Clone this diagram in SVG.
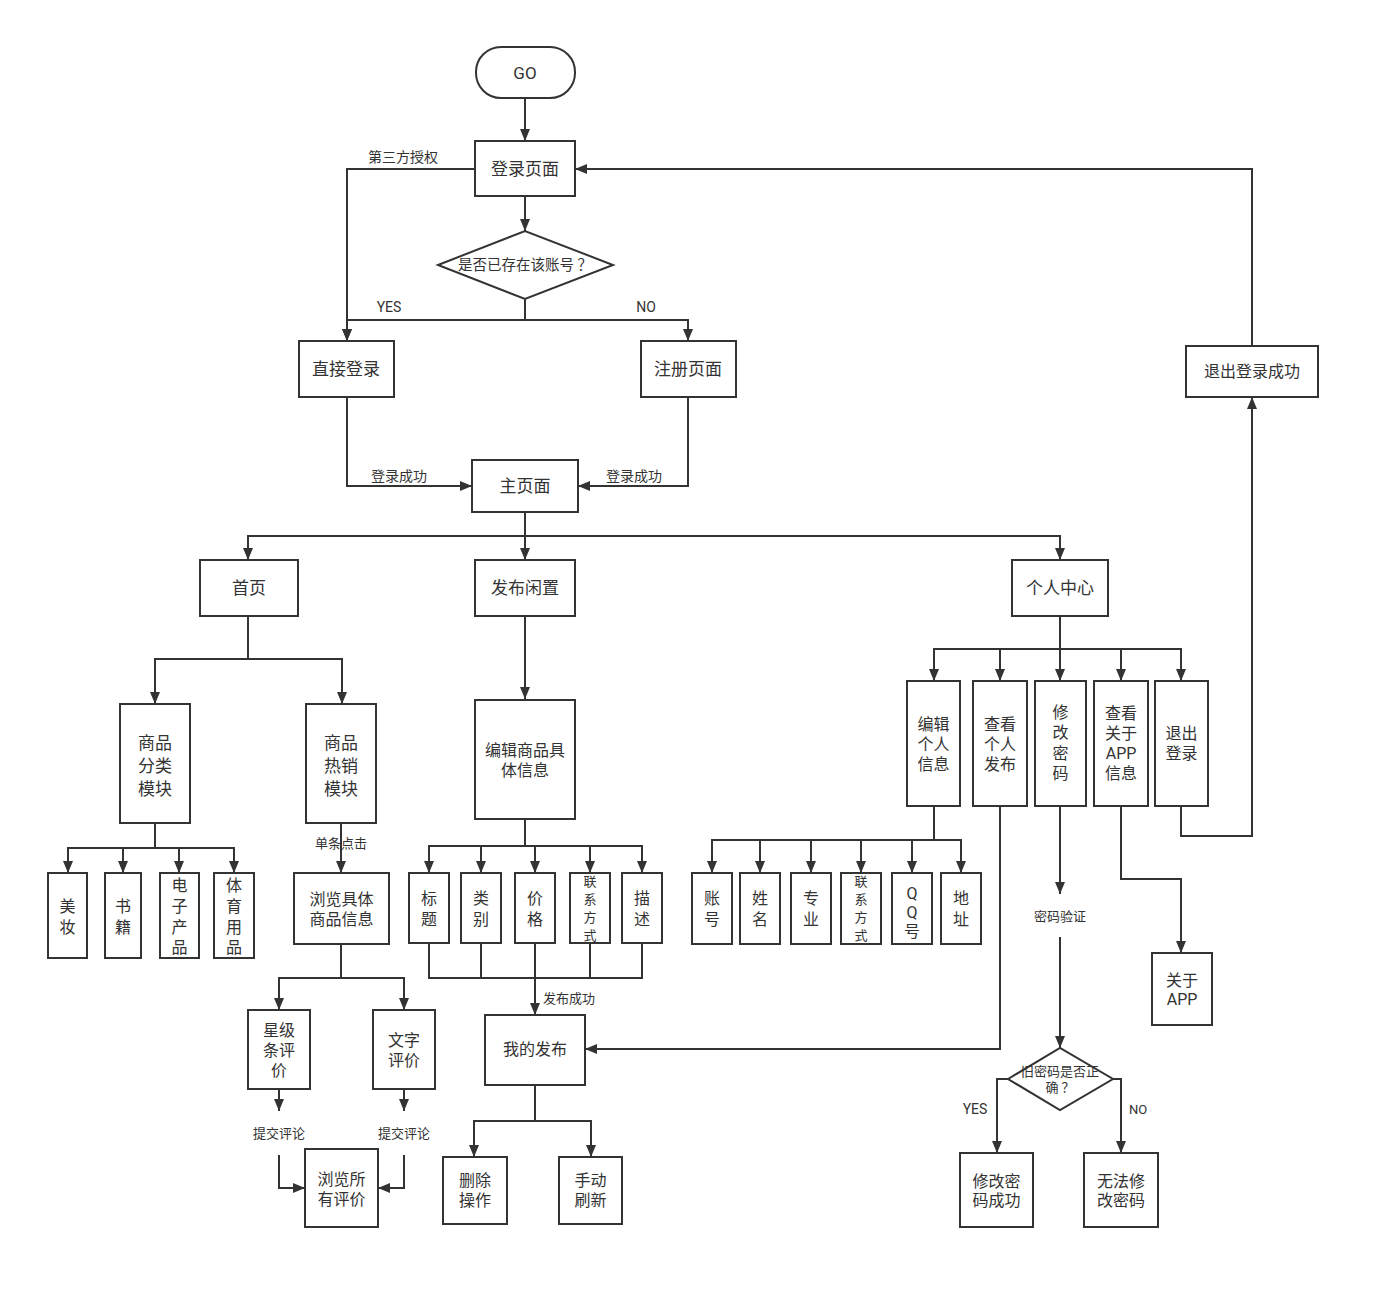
<svg xmlns="http://www.w3.org/2000/svg" width="1381" height="1290" viewBox="0 0 1381 1290">
<defs>
<style>
.b{fill:#fff;stroke:#333;stroke-width:2}
.c{fill:none;stroke:#333;stroke-width:2}
.a{marker-end:url(#ar)}
text{font-family:Roboto,"Noto Sans CJK SC",sans-serif;fill:#333;text-anchor:middle;dominant-baseline:central}
.t{font-size:17px}
.s{font-size:16px}
.l{font-size:14px}
.m{font-size:13px}
</style>
<marker id="ar" markerUnits="userSpaceOnUse" markerWidth="12" markerHeight="12" viewBox="0 0 12 12" refX="12" refY="6" orient="auto">
<path d="M0,1 L12,6 L0,11 z" fill="#333"/>
</marker>
</defs>
<rect width="1381" height="1290" fill="#fff"/>

<g id="connectors">
<path class="c a" d="M525,98 V141"/>
<path class="c a" d="M525,196 V231"/>
<path class="c a" d="M525,299 V320 H347 V341"/>
<path class="c a" d="M525,320 H688 V341"/>
<path class="c a" d="M475,169 H347 V341"/>
<path class="c a" d="M347,397 V486 H472"/>
<path class="c a" d="M688,397 V486 H578"/>
<path class="c a" d="M525,512 V536 H248 V560"/>
<path class="c a" d="M525,536 V560"/>
<path class="c a" d="M525,536 H1060 V560"/>
<path class="c a" d="M248,616 V659 H155 V704"/>
<path class="c a" d="M248,659 H342 V704"/>
<path class="c a" d="M155,823 V848 H68 V873"/>
<path class="c a" d="M123,848 V873"/>
<path class="c a" d="M179,848 V873"/>
<path class="c a" d="M155,848 H234 V873"/>
<path class="c a" d="M341,823 V873"/>
<path class="c a" d="M341,944 V978 H279 V1010"/>
<path class="c a" d="M341,978 H404 V1010"/>
<path class="c a" d="M279,1089 V1111"/>
<path class="c a" d="M279,1155 V1188 H305"/>
<path class="c a" d="M404,1089 V1111"/>
<path class="c a" d="M404,1155 V1188 H378"/>
<path class="c a" d="M525,616 V699"/>
<path class="c a" d="M525,819 V846 H429 V873"/>
<path class="c a" d="M481,846 V873"/>
<path class="c a" d="M535,846 V873"/>
<path class="c a" d="M590,846 V873"/>
<path class="c a" d="M525,846 H642 V873"/>
<path class="c" d="M429,943 V978 H642 V943"/>
<path class="c" d="M481,943 V978"/>
<path class="c" d="M590,943 V978"/>
<path class="c a" d="M535,943 V1015"/>
<path class="c a" d="M535,1085 V1121 H474 V1157"/>
<path class="c a" d="M535,1121 H591 V1157"/>
<path class="c a" d="M1060,616 V649 H934 V681"/>
<path class="c a" d="M1000,649 V681"/>
<path class="c a" d="M1060,649 V681"/>
<path class="c a" d="M1121,649 V681"/>
<path class="c a" d="M1060,649 H1181 V681"/>
<path class="c a" d="M934,806 V840 H712 V873"/>
<path class="c a" d="M760,840 V873"/>
<path class="c a" d="M811,840 V873"/>
<path class="c a" d="M861,840 V873"/>
<path class="c a" d="M912,840 V873"/>
<path class="c a" d="M934,840 H961 V873"/>
<path class="c a" d="M1000,806 V1049 H585"/>
<path class="c a" d="M1060,806 V894"/>
<path class="c a" d="M1060,937 V1048"/>
<path class="c a" d="M1008,1079 H997 V1153"/>
<path class="c a" d="M1113,1079 H1121 V1153"/>
<path class="c a" d="M1121,806 V879 H1181 V953"/>
<path class="c a" d="M1181,806 V836 H1252 V397"/>
<path class="c a" d="M1252,346 V169 H575"/>

<text class="l" x="403" y="157">第三方授权</text>
<text class="l" x="389" y="307">YES</text>
<text class="l" x="646" y="307">NO</text>
<text class="l" x="399" y="476">登录成功</text>
<text class="l" x="634" y="476">登录成功</text>
<text class="m" x="341" y="843">单条点击</text>
<text class="m" x="279" y="1133">提交评论</text>
<text class="m" x="404" y="1133">提交评论</text>
<text class="m" x="569" y="998">发布成功</text>
<text class="m" x="1060" y="916">密码验证</text>
<text class="l" x="975" y="1109">YES</text>
<text class="m" x="1138" y="1109">NO</text>
</g>

<g id="go"><rect class="b" x="476" y="47" width="99" height="51" rx="25"/><text class="t" x="525" y="73">GO</text></g>
<g id="login"><rect class="b" x="475" y="141" width="100" height="55"/><text class="t" x="525" y="169">登录页面</text></g>
<g id="exists"><path class="b" d="M438,265 L525,231 L613,265 L525,299 z"/><text x="525" y="265" style="font-size:14.5px">是否已存在该账号 ？</text></g>
<g id="direct"><rect class="b" x="299" y="341" width="95" height="56"/><text class="t" x="346" y="369">直接登录</text></g>
<g id="register"><rect class="b" x="641" y="341" width="95" height="56"/><text class="t" x="688" y="369">注册页面</text></g>
<g id="main"><rect class="b" x="472" y="460" width="106" height="52"/><text class="t" x="525" y="486">主页面</text></g>
<g id="logoutok"><rect class="b" x="1186" y="346" width="132" height="51"/><text class="s" x="1252" y="371">退出登录成功</text></g>
<g id="home"><rect class="b" x="200" y="560" width="98" height="56"/><text class="t" x="249" y="588">首页</text></g>
<g id="publish"><rect class="b" x="475" y="560" width="100" height="56"/><text class="t" x="525" y="588">发布闲置</text></g>
<g id="center"><rect class="b" x="1012" y="560" width="96" height="56"/><text class="t" x="1060" y="588">个人中心</text></g>

<g id="category"><rect class="b" x="120" y="704" width="70" height="119"/><text class="t" x="155" y="743">商品<tspan x="155" y="766">分类</tspan><tspan x="155" y="789">模块</tspan></text></g>
<g id="hot"><rect class="b" x="306" y="704" width="70" height="119"/><text class="t" x="341" y="743">商品<tspan x="341" y="766">热销</tspan><tspan x="341" y="789">模块</tspan></text></g>
<g id="beauty"><rect class="b" x="48" y="873" width="39" height="85"/><text class="s" x="67.5" y="906">美<tspan x="67.5" y="927">妆</tspan></text></g>
<g id="books"><rect class="b" x="105" y="873" width="36" height="85"/><text class="s" x="123" y="906">书<tspan x="123" y="927">籍</tspan></text></g>
<g id="elec"><rect class="b" x="160" y="873" width="39" height="85"/><text class="s" x="179.5" y="885">电<tspan x="179.5" y="906">子</tspan><tspan x="179.5" y="927">产</tspan><tspan x="179.5" y="947">品</tspan></text></g>
<g id="sport"><rect class="b" x="214" y="873" width="40" height="85"/><text class="s" x="234" y="885">体<tspan x="234" y="906">育</tspan><tspan x="234" y="927">用</tspan><tspan x="234" y="947">品</tspan></text></g>
<g id="browse"><rect class="b" x="294" y="873" width="95" height="71"/><text class="s" x="341.5" y="899">浏览具体<tspan x="341.5" y="919">商品信息</tspan></text></g>
<g id="star"><rect class="b" x="248" y="1010" width="62" height="79"/><text class="s" x="279" y="1030">星级<tspan x="279" y="1050">条评</tspan><tspan x="279" y="1070">价</tspan></text></g>
<g id="textrev"><rect class="b" x="373" y="1010" width="62" height="79"/><text class="s" x="404" y="1040">文字<tspan x="404" y="1060">评价</tspan></text></g>
<g id="allrev"><rect class="b" x="305" y="1149" width="73" height="78"/><text class="s" x="341.5" y="1179">浏览所<tspan x="341.5" y="1199">有评价</tspan></text></g>

<g id="edit"><rect class="b" x="475" y="700" width="100" height="119"/><text class="s" x="525" y="750">编辑商品具<tspan x="525" y="770">体信息</tspan></text></g>
<g id="title"><rect class="b" x="409" y="873" width="40" height="70"/><text class="s" x="429" y="898">标<tspan x="429" y="919">题</tspan></text></g>
<g id="cat"><rect class="b" x="461" y="873" width="40" height="70"/><text class="s" x="481" y="898">类<tspan x="481" y="919">别</tspan></text></g>
<g id="price"><rect class="b" x="515" y="873" width="40" height="70"/><text class="s" x="535" y="898">价<tspan x="535" y="919">格</tspan></text></g>
<g id="contact1"><rect class="b" x="570" y="873" width="40" height="70"/><text class="m" x="590" y="881">联<tspan x="590" y="899">系</tspan><tspan x="590" y="917">方</tspan><tspan x="590" y="935">式</tspan></text></g>
<g id="desc"><rect class="b" x="622" y="873" width="40" height="70"/><text class="s" x="642" y="898">描<tspan x="642" y="919">述</tspan></text></g>
<g id="mypub"><rect class="b" x="485" y="1015" width="100" height="70"/><text class="s" x="535" y="1049">我的发布</text></g>
<g id="delete"><rect class="b" x="443" y="1157" width="64" height="67"/><text class="s" x="475" y="1180">删除<tspan x="475" y="1200">操作</tspan></text></g>
<g id="refresh"><rect class="b" x="559" y="1157" width="63" height="67"/><text class="s" x="590.5" y="1180">手动<tspan x="590.5" y="1200">刷新</tspan></text></g>

<g id="editinfo"><rect class="b" x="907" y="681" width="53" height="125"/><text class="s" x="933.5" y="724">编辑<tspan x="933.5" y="744">个人</tspan><tspan x="933.5" y="764">信息</tspan></text></g>
<g id="viewpub"><rect class="b" x="973" y="681" width="54" height="125"/><text class="s" x="1000" y="724">查看<tspan x="1000" y="744">个人</tspan><tspan x="1000" y="764">发布</tspan></text></g>
<g id="changepw"><rect class="b" x="1035" y="681" width="51" height="125"/><text class="s" x="1060.5" y="712">修<tspan x="1060.5" y="732">改</tspan><tspan x="1060.5" y="753">密</tspan><tspan x="1060.5" y="773">码</tspan></text></g>
<g id="aboutinfo"><rect class="b" x="1094" y="681" width="54" height="125"/><text class="s" x="1121" y="713">查看<tspan x="1121" y="733">关于</tspan><tspan x="1121" y="753">APP</tspan><tspan x="1121" y="773">信息</tspan></text></g>
<g id="logout"><rect class="b" x="1155" y="681" width="53" height="125"/><text class="s" x="1181.5" y="733">退出<tspan x="1181.5" y="753">登录</tspan></text></g>

<g id="account"><rect class="b" x="692" y="873" width="40" height="71"/><text class="s" x="712" y="898">账<tspan x="712" y="919">号</tspan></text></g>
<g id="name"><rect class="b" x="740" y="873" width="40" height="71"/><text class="s" x="760" y="898">姓<tspan x="760" y="919">名</tspan></text></g>
<g id="major"><rect class="b" x="791" y="873" width="40" height="71"/><text class="s" x="811" y="898">专<tspan x="811" y="919">业</tspan></text></g>
<g id="contact2"><rect class="b" x="841" y="873" width="40" height="71"/><text class="m" x="861" y="881">联<tspan x="861" y="899">系</tspan><tspan x="861" y="917">方</tspan><tspan x="861" y="935">式</tspan></text></g>
<g id="qq"><rect class="b" x="892" y="873" width="40" height="71"/><text class="s" x="912" y="893">Q<tspan x="912" y="912">Q</tspan><tspan x="912" y="931">号</tspan></text></g>
<g id="address"><rect class="b" x="941" y="873" width="40" height="71"/><text class="s" x="961" y="898">地<tspan x="961" y="919">址</tspan></text></g>

<g id="oldpw"><path class="b" d="M1008,1079 L1060,1048 L1113,1079 L1060,1110 z"/><text class="m" x="1060" y="1071">旧密码是否正<tspan x="1060" y="1087">确 ？</tspan></text></g>
<g id="pwok"><rect class="b" x="960" y="1153" width="73" height="74"/><text class="s" x="996.5" y="1181">修改密<tspan x="996.5" y="1200">码成功</tspan></text></g>
<g id="pwfail"><rect class="b" x="1084" y="1153" width="74" height="74"/><text class="s" x="1121" y="1181">无法修<tspan x="1121" y="1200">改密码</tspan></text></g>
<g id="about"><rect class="b" x="1152" y="953" width="60" height="72"/><text class="s" x="1182" y="980">关于<tspan x="1182" y="999">APP</tspan></text></g>
</svg>
